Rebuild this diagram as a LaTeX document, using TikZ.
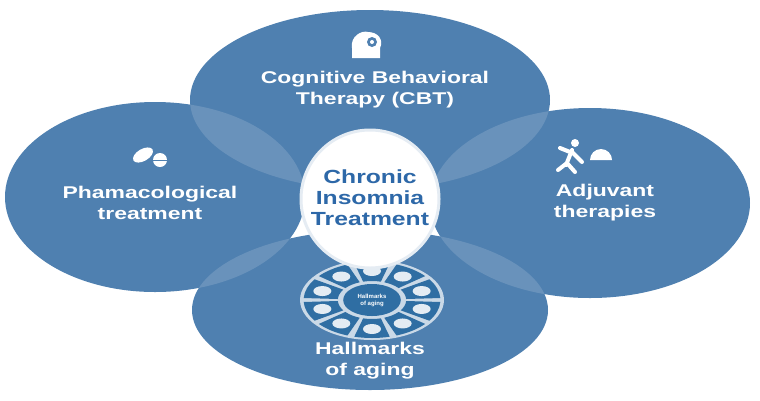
\documentclass[tikz,border=0pt]{standalone}
\usepackage{fontspec}
\setmainfont{Liberation Sans}
\usetikzlibrary{shapes.geometric,calc}
\definecolor{blu}{HTML}{4F80B0}
\definecolor{dblu}{HTML}{2F6EA3}
\definecolor{tblu}{HTML}{2D68A8}
\tikzset{lbl/.style={text=white,font=\bfseries\fontsize{17}{21}\selectfont,align=center,xscale=1.35},
 ell/.style={fill=blu}}
\begin{document}
\begin{tikzpicture}[x=1pt,y=-1pt]
\useasboundingbox (0,0) rectangle (760,400);
\def\Et{(370,100) ellipse [x radius=180,y radius=90]}
\def\El{(155,197) ellipse [x radius=150,y radius=95]}
\def\Er{(590,203) ellipse [x radius=160,y radius=95]}
\def\Eb{(370,310) ellipse [x radius=178,y radius=80]}
\fill[ell] \Et; \fill[ell] \El; \fill[ell] \Er; \fill[ell] \Eb;
\begin{scope}\clip \Et; \fill[white,opacity=0.15] \El; \fill[white,opacity=0.15] \Er;\end{scope}
\begin{scope}\clip \Eb; \fill[white,opacity=0.15] \El; \fill[white,opacity=0.15] \Er;\end{scope}
% hallmarks wheel
\begin{scope}[shift={(372,300)},xscale=1.8]
\fill[white!70!blu] (0,0) circle (40);
\foreach \a in {0,36,...,324}{
 \fill[dblu] (\a+3:38) arc (\a+3:\a+33:38) -- (\a+33:19) arc (\a+33:\a+3:19) -- cycle;
 \fill[white!85!blu] (\a+18:29) circle (5);
}
\fill[dblu] (0,0) circle (16);
\end{scope}
\node[text=white,font=\bfseries\fontsize{6}{7}\selectfont,align=center] (hw) at (372,300) {Hallmarks\\of aging};
\node[circle,minimum size=138pt,fill=white,draw=white!85!blu,line width=3pt] (c) at (370,199) {};
\node[font=\bfseries\fontsize{19}{21}\selectfont,text=tblu,align=center,xscale=1.3] (ct) at (370,198) {Chronic\\Insomnia\\Treatment};
\node[lbl] (t) at (375,90) {Cognitive Behavioral\\Therapy (CBT)};
\node[lbl] (l) at (150,203) {Phamacological\\treatment};
\node[lbl] (r) at (605,203) {Adjuvant\\therapies};
\node[lbl] (b) at (370,361) {Hallmarks\\of aging};
% head icon
\fill[white] (352,58) -- (352,48) .. controls (350,36) and (362,30) .. (368,32) .. controls (378,32) and (384,40) .. (380,48) -- (380,58) -- cycle;
\fill[blu] (372,42) circle (5);
\fill[white] (372,42) circle (2);
% pills
\fill[white,rotate around={30:(143,155)}] (143,155) ellipse [x radius=11,y radius=6];
\fill[white] (160,160) circle (7);
\draw[blu,line width=1pt] (153,160) -- (167,160);
% adjuvant icons
\fill[white] (575,143) circle (4);
\draw[white,line width=4pt,line cap=round] (572,150) -- (566,165) (570,152) -- (560,148) (572,152) -- (582,162) (567,163) -- (575,172) (567,163) -- (558,170);
\fill[white] (590,160) -- (612,160) arc (0:-180:11) -- cycle;
\fill[white] (596,156) circle (3) (602,154) circle (3) (607,157) circle (3);
\end{tikzpicture}
\end{document}
